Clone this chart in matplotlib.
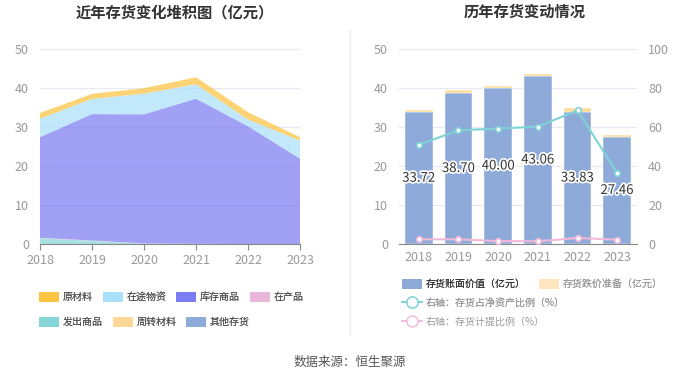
import matplotlib
matplotlib.use("Agg")
import matplotlib.pyplot as plt
import matplotlib.patheffects as pe
from matplotlib.patches import Patch
from matplotlib.lines import Line2D
import numpy as np

plt.rcParams['font.family'] = ['Noto Sans CJK SC', 'DejaVu Sans']

years = ["2018", "2019", "2020", "2021", "2022", "2023"]

# left stacked area (亿元), bottom to top
fachu = [1.5, 0.8, 0.1, 0.0, 0.0, 0.0]          # 发出商品
zaichan = [0.1, 0.1, 0.05, 0.05, 0.0, 0.0]      # 在产品
kucun = [25.8, 32.4, 33.1, 37.2, 30.2, 21.9]    # 库存商品
zaitu = [4.7, 3.9, 5.3, 3.7, 1.7, 4.6]          # 在途物资
yuancl = [1.5, 1.3, 1.4, 1.8, 1.9, 0.9]         # 原材料

# right chart
book_value = [33.72, 38.70, 40.00, 43.06, 33.83, 27.46]
reserve = [0.7, 0.8, 0.6, 0.6, 1.1, 0.5]
net_asset_ratio = [50.9, 58.3, 59.2, 60.2, 68.5, 36.4]
provision_ratio = [2.4, 2.4, 1.5, 1.4, 3.1, 2.2]

c_yuancl = "#fcc440"
c_zaitu = "#a9e0fa"
c_kucun = "#7b7bf2"
c_zaichan = "#e8b6d8"
c_fachu = "#86d6d8"
c_zhouzhuan = "#ffd898"
c_other = "#8eaad9"
c_reserve = "#fedd9a"
c_reserve_leg = "#fde6c0"
c_line1 = "#7fd3d6"
c_line2 = "#f1b9d9"
grid_c = "#e8e8f4"
tick_c = "#999999"

fig = plt.figure(figsize=(7, 3.78), dpi=100)

# ---------- left ----------
ax1 = fig.add_axes([40/700, (378-244)/378, 260/700, 195/378])
x = np.arange(len(years))
ax1.stackplot(x, fachu, zaichan, kucun, zaitu, yuancl,
              colors=[c_fachu, c_zaichan, c_kucun, c_zaitu, c_yuancl],
              alpha=0.72, linewidth=0)
ax1.set_xlim(0, 5)
ax1.set_ylim(0, 50)
ax1.set_yticks([0, 10, 20, 30, 40, 50])
ax1.set_xticks(x)
ax1.set_xticklabels(years)
for s in ["top", "right", "left"]:
    ax1.spines[s].set_visible(False)
ax1.spines["bottom"].set_color("#888888")
ax1.tick_params(axis="both", colors=tick_c, labelsize=9, length=0)
ax1.tick_params(axis="x", length=4, color="#888888", pad=3)
ax1.tick_params(axis="y", pad=8)
ax1.grid(axis="y", color=grid_c, linewidth=0.9)
ax1.set_axisbelow(True)

# ---------- right ----------
ax2 = fig.add_axes([399/700, (378-244)/378, 238/700, 195/378])
ax2.bar(x, book_value, width=0.7, color=c_other, edgecolor="white", linewidth=0.3, zorder=2)
ax2.bar(x, reserve, bottom=book_value, width=0.7, color=c_reserve, edgecolor="white", linewidth=0.3, zorder=2)
ax2.set_xlim(-0.5, 5.5)
ax2.set_ylim(0, 50)
ax2.set_yticks([0, 10, 20, 30, 40, 50])
ax2.set_xticks(x)
ax2.set_xticklabels(years)
for s in ["top", "right", "left"]:
    ax2.spines[s].set_visible(False)
ax2.spines["bottom"].set_color("#888888")
ax2.tick_params(axis="both", colors=tick_c, labelsize=9, length=0)
ax2.tick_params(axis="x", pad=5)
ax2.tick_params(axis="y", pad=8)
ax2.grid(axis="y", color=grid_c, linewidth=0.9)
ax2.set_axisbelow(True)
for xi, v in zip(x, book_value):
    ax2.text(xi, v / 2, f"{v:.2f}", ha="center", va="center", fontsize=9.5,
             color="#333333", zorder=5,
             path_effects=[pe.withStroke(linewidth=2.5, foreground="white")])

ax3 = ax2.twinx()
ax3.set_ylim(0, 100)
ax3.set_yticks([0, 20, 40, 60, 80, 100])
ax3.plot(x, net_asset_ratio, color=c_line1, linewidth=1.5, marker="o", markersize=4,
         markerfacecolor="white", markeredgecolor=c_line1, markeredgewidth=1.2, zorder=4)
ax3.plot(x, provision_ratio, color=c_line2, linewidth=1.5, marker="o", markersize=4,
         markerfacecolor="white", markeredgecolor=c_line2, markeredgewidth=1.2, zorder=4)
for s in ["top", "right", "left", "bottom"]:
    ax3.spines[s].set_visible(False)
ax3.tick_params(axis="y", colors=tick_c, labelsize=9, length=0, pad=8)

# ---------- titles, divider, source ----------
fig.text(175/700, 1 - 12/378, "近年存货变化堆积图（亿元）", ha="center", va="center",
         fontsize=11, fontweight="bold", color="#333333")
fig.text(525/700, 1 - 12/378, "历年存货变动情况", ha="center", va="center",
         fontsize=11, fontweight="bold", color="#333333")
fig.add_artist(Line2D([350/700, 350/700], [1 - 30/378, 1 - 335/378],
                      color="#eeeeee", linewidth=1))
fig.text(350/700, 1 - 362/378, "数据来源：恒生聚源", ha="center", va="center",
         fontsize=9, color="#555555")

# ---------- legends ----------
def patch(c):
    return Patch(facecolor=c, edgecolor="none")

leg_kw = dict(frameon=False, fontsize=7.2, handlelength=2.0, handleheight=1.1,
              handletextpad=0.4, columnspacing=0.95, borderaxespad=0, borderpad=0,
              labelcolor="#555555")
l1 = fig.legend([patch(c_yuancl), patch(c_zaitu), patch(c_kucun), patch(c_zaichan)],
                ["原材料", "在途物资", "库存商品", "在产品"], ncol=4,
                loc="center left", bbox_to_anchor=(39/700, 1 - 297/378), **leg_kw)
l2 = fig.legend([patch(c_fachu), patch(c_zhouzhuan), patch(c_other)],
                ["发出商品", "周转材料", "其他存货"], ncol=3,
                loc="center left", bbox_to_anchor=(39/700, 1 - 322/378), **leg_kw)
fig.add_artist(l1)
fig.add_artist(l2)

l3 = fig.legend([patch(c_other), patch(c_reserve_leg)],
                ["存货账面价值（亿元）", "存货跌价准备（亿元）"], ncol=2,
                loc="center left", bbox_to_anchor=(402/700, 1 - 284/378),
                **{**leg_kw, "columnspacing": 1.3})
l3.get_texts()[0].set_color("#333333")
l3.get_texts()[1].set_color("#999999")
fig.add_artist(l3)
h1 = Line2D([], [], color=c_line1, linewidth=1.3, marker="o", markersize=8,
            markerfacecolor="white", markeredgecolor=c_line1)
h2 = Line2D([], [], color=c_line2, linewidth=1.3, marker="o", markersize=8,
            markerfacecolor="white", markeredgecolor=c_line2)
l4 = fig.legend([h1], ["右轴：存货占净资产比例（%）"], loc="center left",
                bbox_to_anchor=(402/700, 1 - 303/378), **{**leg_kw, "labelcolor": "#999999"})
fig.add_artist(l4)
l5 = fig.legend([h2], ["右轴：存货计提比例（%）"], loc="center left",
                bbox_to_anchor=(402/700, 1 - 322/378), **{**leg_kw, "labelcolor": "#999999"})

fig.savefig("out.png", dpi=100)
